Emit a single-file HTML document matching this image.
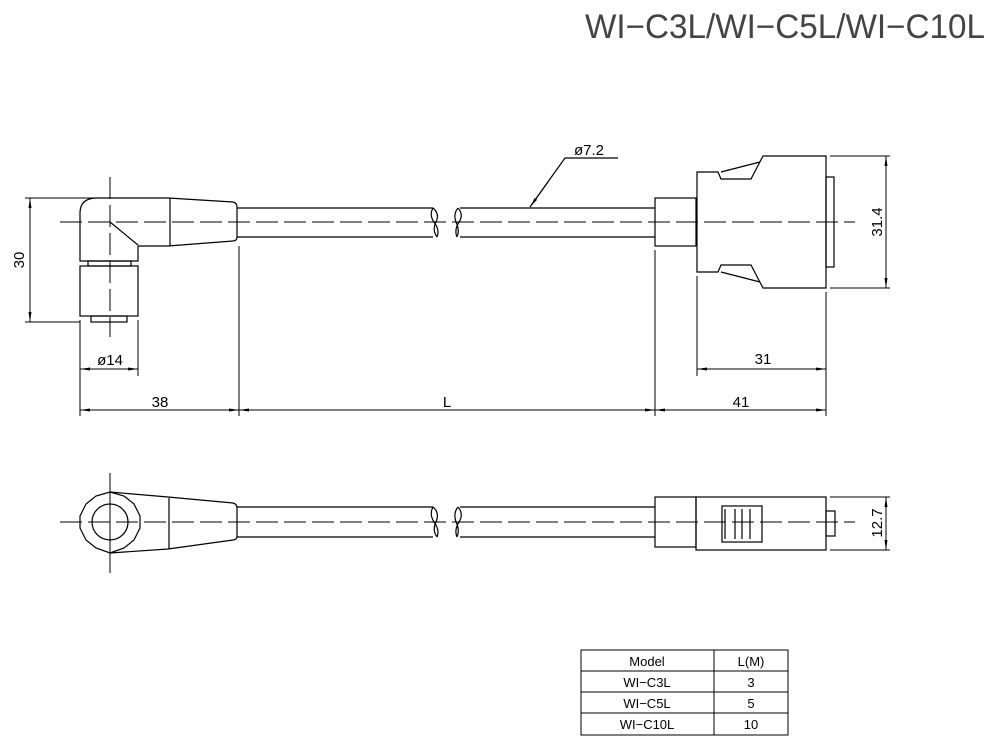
<!DOCTYPE html>
<html><head><meta charset="utf-8"><style>html,body{margin:0;padding:0;background:#fff}svg{display:block}</style></head>
<body>
<svg width="1000" height="745" viewBox="0 0 1000 745" xmlns="http://www.w3.org/2000/svg" font-family="Liberation Sans, sans-serif">
<defs>
<marker id="a" markerWidth="10" markerHeight="6" refX="10" refY="3" orient="auto-start-reverse" markerUnits="userSpaceOnUse"><path d="M0,1.5 L10,3 L0,4.5z" fill="#000"/></marker>
</defs>
<g stroke="#000" stroke-width="1.2" fill="none">
<path d="M80,261 L80,213 Q80,198 97,198 L168,198 L233,202 Q237,203 237,207 L237,237 Q237,241 233,241 L168,246 L138,246 L138,261 Z"/>
<line x1="170" y1="198" x2="170" y2="246"/>
<line x1="110" y1="222" x2="138" y2="245"/>
<rect x="88" y="261" width="43" height="5"/>
<rect x="80" y="266" width="58" height="50"/>
<rect x="91" y="316" width="36" height="6"/>
<path d="M237,208 L433,208 M237,237 L433,237 M460,208 L655,208 M460,237 L655,237"/>
<path d="M433,208 Q440,214 436,222 Q432,230 437,237 M433,208 Q429,215 434,222 Q440,230 437,237"/>
<path d="M458,208 Q453,214 456,222 Q460,230 457,237 M458,208 Q464,215 459,222 Q454,230 457,237"/>
<rect x="655" y="198" width="41" height="48"/>
<path d="M697,172 L718,172 L721,179 L751,179 L763,156 L826,156 L826,288 L763,288 L751,265 L721,265 L718,272 L697,272 Z"/>
<path d="M721,172 L760,162 M721,272 L760,282"/>
<rect x="826" y="177" width="8" height="90"/>
<path d="M530,207 L565,158 L618,158"/>
<path d="M25,198 L97,198 M25,322 L80,322" stroke-width="1"/>
<line x1="30" y1="198" x2="30" y2="322" marker-start="url(#a)" marker-end="url(#a)" stroke-width="1"/>
<path d="M830,156 L890,156 M830,288 L890,288" stroke-width="1"/>
<line x1="886" y1="156" x2="886" y2="288" marker-start="url(#a)" marker-end="url(#a)" stroke-width="1"/>
<path d="M80,320 L80,416 M138,320 L138,376 M239,246 L239,416 M655,250 L655,416 M826,292 L826,416 M697,276 L697,376" stroke-width="1"/>
<line x1="80" y1="369" x2="138" y2="369" marker-start="url(#a)" marker-end="url(#a)" stroke-width="1"/>
<line x1="697" y1="369" x2="826" y2="369" marker-start="url(#a)" marker-end="url(#a)" stroke-width="1"/>
<line x1="80" y1="410" x2="239" y2="410" marker-start="url(#a)" marker-end="url(#a)" stroke-width="1"/>
<line x1="239" y1="410" x2="655" y2="410" marker-start="url(#a)" marker-end="url(#a)" stroke-width="1"/>
<line x1="655" y1="410" x2="826" y2="410" marker-start="url(#a)" marker-end="url(#a)" stroke-width="1"/>
<line x1="60" y1="222" x2="855" y2="222" stroke-dasharray="22,6" stroke-width="1"/>
<line x1="110" y1="177" x2="110" y2="337" stroke-dasharray="22,6" stroke-width="1"/>
<polygon points="110,492 124,496 134,504 140,516 140,528 134,540 124,548 110,553 96,548 86,540 80,528 80,516 86,504 96,496"/>
<circle cx="110" cy="522" r="18"/>
<path d="M110,492 L168,497 L233,503 Q237,504 237,508 L237,536 Q237,540 233,540 L168,549 L110,553"/>
<line x1="169" y1="498" x2="169" y2="549"/>
<path d="M237,507 L433,507 M237,537 L433,537 M460,507 L655,507 M460,537 L655,537"/>
<path d="M433,507 Q440,513 436,522 Q432,530 437,537 M433,507 Q429,514 434,522 Q440,530 437,537"/>
<path d="M458,507 Q453,513 456,522 Q460,530 457,537 M458,507 Q464,514 459,522 Q454,530 457,537"/>
<rect x="655" y="497" width="41" height="50"/>
<rect x="696" y="497" width="130" height="53"/>
<rect x="722" y="506" width="40" height="36"/>
<path d="M725,509 V539 M735,509 V539 M742,509 V539 M750,509 V539"/>
<rect x="826" y="511" width="9" height="25"/>
<path d="M830,497 L890,497 M830,550 L890,550" stroke-width="1"/>
<line x1="886" y1="497" x2="886" y2="550" marker-start="url(#a)" marker-end="url(#a)" stroke-width="1"/>
<line x1="60" y1="522" x2="855" y2="522" stroke-dasharray="22,6" stroke-width="1"/>
<line x1="110" y1="473" x2="110" y2="573" stroke-width="1"/>
<rect x="581" y="650" width="207" height="85" stroke-width="1"/>
<path d="M581,671 H788 M581,692 H788 M581,713 H788 M714,650 V735" stroke-width="1"/>
</g>
<line x1="530" y1="207" x2="548" y2="182" stroke="#000" marker-start="url(#a)" stroke-width="1"/>
<g fill="#000" font-size="15" text-anchor="middle">
<text x="785" y="38" font-size="34" textLength="400" lengthAdjust="spacingAndGlyphs" fill="#444">WI−C3L/WI−C5L/WI−C10L</text>
<text x="589" y="155">ø7.2</text>
<text x="110" y="365">ø14</text>
<text x="160" y="407">38</text>
<text x="447" y="407">L</text>
<text x="741" y="407">41</text>
<text x="763" y="364">31</text>
<text transform="translate(24,260) rotate(-90)">30</text>
<text transform="translate(882,222) rotate(-90)">31.4</text>
<text transform="translate(882,523) rotate(-90)">12.7</text>
<text x="647" y="666" font-size="13">Model</text>
<text x="751" y="666" font-size="13">L(M)</text>
<text x="647" y="687" font-size="13">WI−C3L</text>
<text x="751" y="687" font-size="13">3</text>
<text x="647" y="708" font-size="13">WI−C5L</text>
<text x="751" y="708" font-size="13">5</text>
<text x="647" y="729" font-size="13">WI−C10L</text>
<text x="751" y="729" font-size="13">10</text>
</g>
</svg>
</body></html>
